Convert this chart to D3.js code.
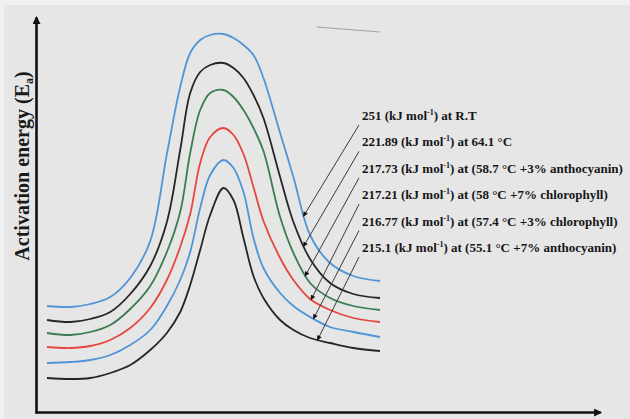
<!DOCTYPE html>
<html><head><meta charset="utf-8">
<script src="https://cdn.jsdelivr.net/npm/d3@7"></script>
<style>
html,body{margin:0;padding:0;background:#f1f1f1;}
svg{display:block}
</style></head><body>
<svg id="chart" width="630" height="419"></svg>
<script>
// Reaction coordinate (arbitrary units), shared by every energy profile
const reactionCoord = [0, 7, 13, 19, 25, 31, 36, 40, 43, 46, 49, 53, 56, 59, 62, 65, 70, 74, 79, 85, 92, 100];

// Energy profiles along the reaction coordinate (arbitrary energy units), top to bottom
const profileRT        = [106, 105, 108, 115, 134, 171, 258, 325, 359, 372, 377, 378, 374, 367, 357, 334, 279, 235, 177, 149, 136, 131];
const profile64        = [92, 90, 93, 100, 118, 146, 190, 262, 319, 340, 347, 349, 344, 334, 317, 294, 235, 190, 153, 129, 118, 114];
const profile58Antho3  = [79, 77, 80, 87, 103, 126, 160, 200, 259, 302, 319, 322, 315, 302, 284, 261, 195, 159, 129, 114, 106, 102];
const profile58Chloro7 = [65, 64, 66, 72, 84, 104, 132, 165, 198, 249, 275, 284, 277, 258, 225, 191, 154, 132, 113, 102, 94, 90];
const profile57Chloro3 = [49, 50, 52, 57, 67, 82, 106, 132, 160, 204, 237, 252, 244, 220, 174, 144, 119, 106, 95, 85, 80, 75];
const profile55Antho7  = [34, 33, 34, 39, 47, 62, 79, 100, 127, 162, 197, 224, 212, 174, 136, 114, 92, 82, 74, 69, 64, 61];

// Activation energies (kJ mol-1) and conditions for each profile
const activationEnergy = [251, 221.89, 217.73, 217.21, 216.77, 215.1];
const conditions = ["R.T", "64.1 °C", "(58.7 °C +3% anthocyanin)", "(58 °C +7% chlorophyll)",
                    "(57.4 °C +3% chlorophyll)", "(55.1 °C +7% anthocyanin)"];
const seriesColors = ["#4f95d6", "#262626", "#3b7d52", "#e5473e", "#4f95d6", "#262626"];
// Reaction coordinate where each label's pointer meets its profile
const pointerAt = [77, 77, 77.5, 79.3, 80, 81.2];
// Faint rule near the top of the plot
const topRule = [[81, 385], [100, 380]];

const profiles = [profileRT, profile64, profile58Antho3, profile58Chloro7, profile57Chloro3, profile55Antho7];

const W = 630, H = 419;
const svg = d3.select("#chart");

svg.append("rect").attr("x", 4).attr("y", 5).attr("width", W - 4).attr("height", H - 5).attr("fill", "#e6e6e6");

const x = d3.scaleLinear().domain([0, 100]).range([47, 380]);
const y = d3.scaleLinear().domain([0, 395]).range([412, 17]);

const defs = svg.append("defs");
defs.append("marker").attr("id", "axisHead")
  .attr("viewBox", "0 0 10 10").attr("refX", 8).attr("refY", 5)
  .attr("markerWidth", 9).attr("markerHeight", 8).attr("markerUnits", "userSpaceOnUse")
  .attr("orient", "auto")
  .append("path").attr("d", "M0,0L10,5L0,10Z").attr("fill", "#111");
defs.append("marker").attr("id", "pointerHead")
  .attr("viewBox", "0 0 10 10").attr("refX", 9).attr("refY", 5)
  .attr("markerWidth", 6).attr("markerHeight", 5).attr("markerUnits", "userSpaceOnUse")
  .attr("orient", "auto")
  .append("path").attr("d", "M0,0L10,5L0,10Z").attr("fill", "#111");

// Axes: plain lines with arrow heads, no ticks
const yAxisG = svg.append("g").attr("transform", "translate(36,0)")
  .call(d3.axisLeft(d3.scaleLinear().range([413, 17])).tickValues([]).tickSizeOuter(0));
yAxisG.select(".domain").attr("stroke", "#111").attr("stroke-width", 2.6).attr("marker-end", "url(#axisHead)");

const xAxisG = svg.append("g").attr("transform", "translate(0,412)")
  .call(d3.axisBottom(d3.scaleLinear().range([35, 600])).tickValues([]).tickSizeOuter(0));
xAxisG.select(".domain").attr("stroke", "#111").attr("stroke-width", 2.6).attr("marker-end", "url(#axisHead)");

// Y axis title
const yTitle = svg.append("text")
  .attr("transform", "translate(29,166) rotate(-90)")
  .attr("text-anchor", "middle")
  .attr("font-family", "'Liberation Serif', 'Times New Roman', serif")
  .attr("font-weight", "bold").attr("font-size", 20).attr("fill", "#1a1a1a");
yTitle.append("tspan").text("Activation energy (E");
yTitle.append("tspan").attr("font-size", 12).attr("dy", 4).text("a");
yTitle.append("tspan").attr("dy", -4).text(")");

// Faint rule
svg.append("path")
  .attr("d", d3.line().x(d => x(d[0])).y(d => y(d[1]))(topRule))
  .attr("fill", "none").attr("stroke", "#a0a0a0").attr("stroke-width", 1.2);

// Energy profiles
const line = d3.line()
  .x((d, i) => x(reactionCoord[i]))
  .y(d => y(d))
  .curve(d3.curveCatmullRom.alpha(0.5));

const paths = svg.append("g").selectAll("path")
  .data(profiles)
  .join("path")
  .attr("d", d => line(d))
  .attr("fill", "none")
  .attr("stroke", (d, i) => seriesColors[i])
  .attr("stroke-width", 1.8);

// Point on a rendered profile at a given screen x
function pointAtX(pathNode, px) {
  const total = pathNode.getTotalLength();
  let lo = 0, hi = total;
  for (let k = 0; k < 40; k++) {
    const mid = (lo + hi) / 2;
    if (pathNode.getPointAtLength(mid).x < px) lo = mid; else hi = mid;
  }
  return pathNode.getPointAtLength((lo + hi) / 2);
}

// Labels and pointers
const labelX = 362;
const labelY = d3.scaleLinear().domain([0, 5]).range([120, 252]);
const labels = svg.append("g")
  .attr("font-family", "'Liberation Serif', 'Times New Roman', serif")
  .attr("font-weight", "bold").attr("font-size", 13).attr("fill", "#161616");

activationEnergy.forEach((ea, i) => {
  const t = labels.append("text").attr("x", labelX).attr("y", labelY(i));
  t.append("tspan").text(`${ea} (kJ mol`);
  t.append("tspan").attr("font-size", 8).attr("dy", -5).text("-1");
  t.append("tspan").attr("dy", 5).text(`) at ${conditions[i]}`);

  const tip = pointAtX(paths.nodes()[i], x(pointerAt[i]));
  svg.append("line")
    .attr("x1", labelX - 3).attr("y1", labelY(i) + 5)
    .attr("x2", tip.x).attr("y2", tip.y)
    .attr("stroke", "#3a3a3a").attr("stroke-width", 1)
    .attr("marker-end", "url(#pointerHead)");
});
</script>
</body></html>
